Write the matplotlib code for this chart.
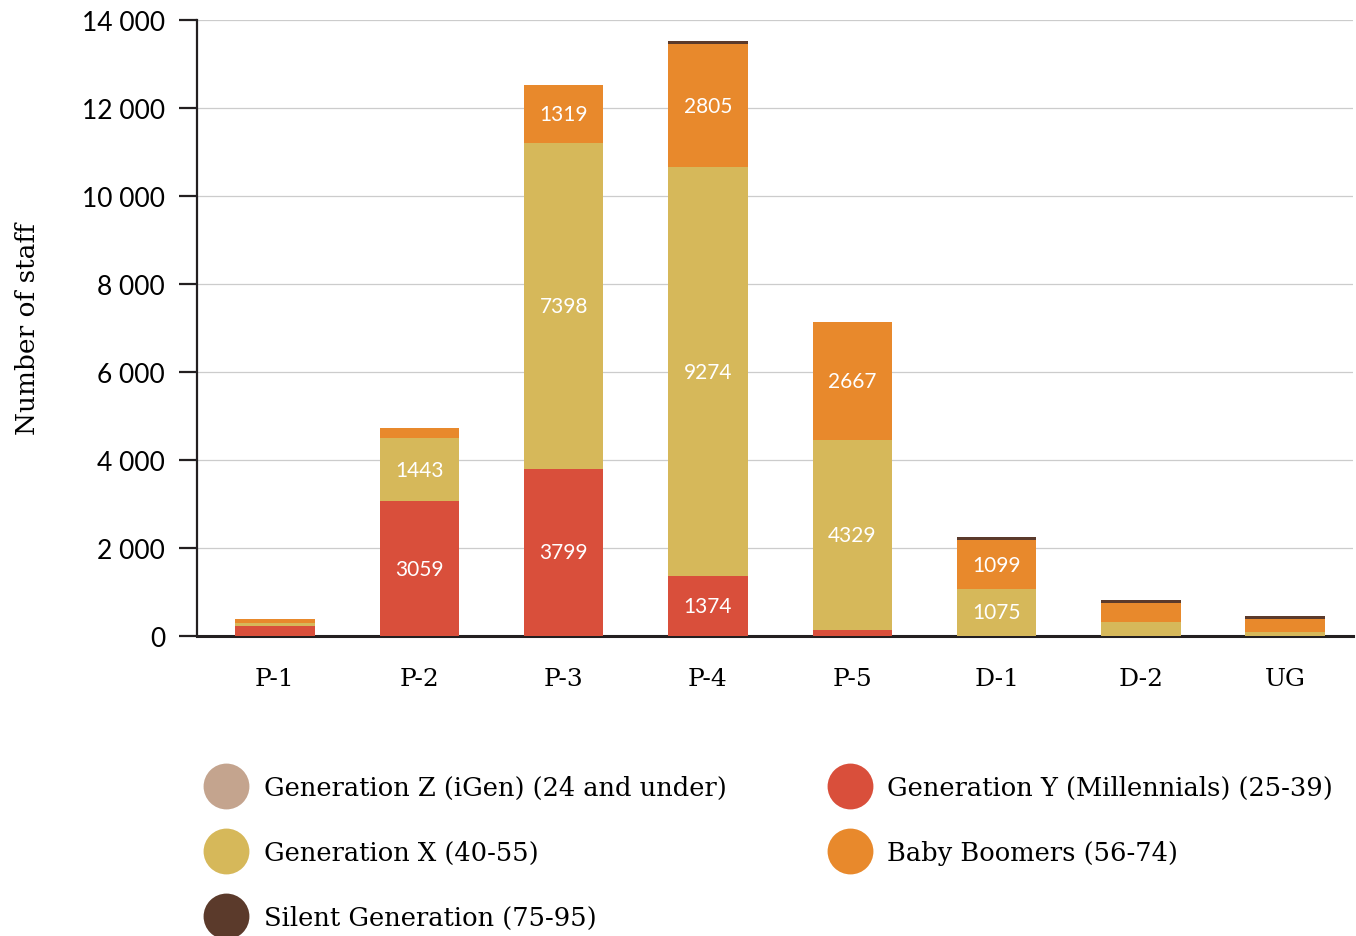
import numpy as np
import matplotlib.pyplot as plt
from matplotlib.lines import Line2D
from matplotlib.ticker import FuncFormatter

# --- data
grades = ["P-1", "P-2", "P-3", "P-4", "P-5", "D-1", "D-2", "UG"]
gen_z = [0, 0, 0, 0, 0, 0, 0, 0]
gen_y = [230, 3059, 3799, 1374, 135, 0, 0, 0]
gen_x = [75, 1443, 7398, 9274, 4329, 1075, 310, 85]
boomers = [75, 225, 1319, 2805, 2667, 1099, 440, 300]
silent = [0, 0, 0, 70, 0, 70, 70, 70]

series = [
    ("Generation Z (iGen) (24 and under)", gen_z, "#c4a48e"),
    ("Generation Y (Millennials) (25-39)", gen_y, "#d94f3b"),
    ("Generation X (40-55)", gen_x, "#d6b85a"),
    ("Baby Boomers (56-74)", boomers, "#e8892c"),
    ("Silent Generation (75-95)", silent, "#5b3a2b"),
]

SERIF = ["DejaVu Serif"]
SANS = ["Lato", "DejaVu Sans"]

fig = plt.figure(figsize=(13.56, 9.37), dpi=100)
ax = fig.add_axes([197 / 1356, 1 - 637 / 937, (1353 - 197) / 1356, (637 - 21) / 937])

x = np.arange(len(grades))
bottom = np.zeros(len(grades))
for name, vals, color in series:
    vals = np.array(vals, dtype=float)
    ax.bar(x, vals, 0.55, bottom=bottom, color=color, edgecolor="none", zorder=3)
    for xi, b, v in zip(x, bottom, vals):
        if v >= 1000:
            ax.text(xi, b + v / 2, f"{int(v)}", ha="center", va="center",
                    color="white", fontsize=15, family=SANS, zorder=4)
    bottom += vals

ax.set_xlim(-0.54, 7.47)
ax.set_ylim(0, 14000)
ax.set_yticks(range(0, 14001, 2000))
ax.yaxis.set_major_formatter(FuncFormatter(lambda v, p: f"{int(v):,}".replace(",", " ")))
ax.grid(axis="y", color="#cccccc", linewidth=0.9, zorder=0)
ax.set_xticks(x)
ax.set_xticklabels(grades, family=SERIF, fontsize=18)
ax.tick_params(axis="x", length=0, pad=22)
ax.tick_params(axis="y", length=13, width=1.6, color="#231f20", labelsize=19, pad=10)
for lab in ax.get_yticklabels():
    lab.set_family(SANS)
for s in ["top", "right"]:
    ax.spines[s].set_visible(False)
ax.spines["left"].set_linewidth(1.6)
ax.spines["left"].set_color("#231f20")
ax.spines["bottom"].set_linewidth(2.2)
ax.spines["bottom"].set_color("#231f20")
ax.set_ylabel("Number of staff", family=SERIF, fontsize=19, labelpad=30)

# legend, two columns: Z/Y, X/Boomers, Silent
order = [0, 2, 4, 1, 3]
handles = [Line2D([], [], marker="o", linestyle="none", markersize=33,
                  markerfacecolor=series[i][2], markeredgecolor="none") for i in order]
labels = [series[i][0] for i in order]
fig.legend(handles, labels, ncol=2, loc="upper left", bbox_to_anchor=(198 / 1356, 1 - 763 / 937),
           frameon=False, prop={"family": SERIF, "size": 18.5}, handletextpad=0.85,
           columnspacing=4.2, labelspacing=1.55, handlelength=1.2, borderpad=0)

fig.savefig("out.png", dpi=100)
